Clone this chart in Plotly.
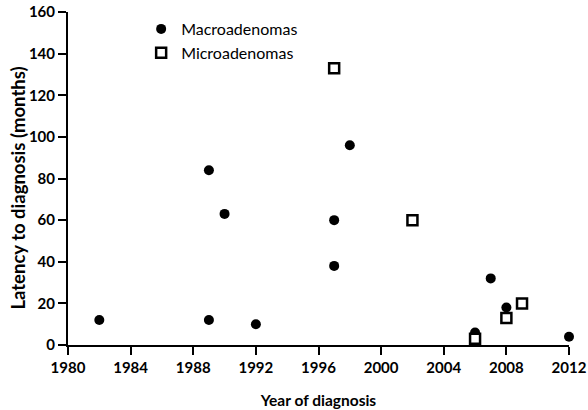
import plotly.graph_objects as go

macro_year = [1982, 1989, 1989, 1990, 1992, 1998, 1997, 1997, 2006, 2007, 2008, 2012]
macro_latency = [12, 84, 12, 63, 10, 96, 60, 38, 6, 32, 18, 4]
micro_year = [1997, 2002, 2006, 2008, 2009]
micro_latency = [133, 60, 3, 13, 20]
x_ticks = [1980, 1984, 1988, 1992, 1996, 2000, 2004, 2008, 2012]
y_ticks = [0, 20, 40, 60, 80, 100, 120, 140, 160]

FONT = "Lato, 'Open Sans', sans-serif"

fig = go.Figure()
fig.add_trace(go.Scatter(
    x=macro_year, y=macro_latency, mode="markers", name="Macroadenomas",
    marker=dict(symbol="circle", size=10, color="black", line=dict(width=0)),
    cliponaxis=False,
))
fig.add_trace(go.Scatter(
    x=micro_year, y=micro_latency, mode="markers", name="Microadenomas",
    marker=dict(symbol="square", size=10, color="white", line=dict(width=2.5, color="black")),
    cliponaxis=False,
))

fig.update_layout(
    width=588, height=410,
    margin=dict(l=68, r=19, t=12, b=65),
    paper_bgcolor="white", plot_bgcolor="white",
    font=dict(family=FONT, color="black"),
    showlegend=True,
    legend=dict(x=0.146, y=1.0, xanchor="left", yanchor="top",
                font=dict(size=16, family=FONT, color="black"),
                bgcolor="rgba(0,0,0,0)", itemsizing="trace", tracegroupgap=0),
    xaxis=dict(
        range=[1980, 2012], tickvals=x_ticks, ticktext=[str(v) for v in x_ticks],
        showgrid=False, zeroline=False, showline=True, linecolor="black", linewidth=2,
        ticks="outside", ticklen=8, tickwidth=2, tickcolor="black", automargin=False,
        ticklabeloverflow="allow",
        tickfont=dict(size=15, family=FONT, color="black", weight="bold"),
        title=dict(text="<b>Year of diagnosis</b>", font=dict(size=15.5, family=FONT), standoff=20),
    ),
    yaxis=dict(
        range=[0, 160], tickvals=y_ticks,
        showgrid=False, zeroline=False, showline=True, linecolor="black", linewidth=2,
        ticks="outside", ticklen=8, tickwidth=2, tickcolor="black", automargin=False,
        ticklabeloverflow="allow",
        tickfont=dict(size=15, family=FONT, color="black", weight="bold"),
    ),
    annotations=[dict(
        text="<b>Latency to diagnosis (months)</b>", textangle=-90,
        xref="paper", yref="paper", x=-0.099, y=0.471,
        xanchor="center", yanchor="middle", showarrow=False,
        font=dict(size=18.5, family=FONT, color="black"),
    )],
)

# Remove the browser's default 8px body margin so the 588x410 figure fills the window.
fig.write_html("out.html", config={"displayModeBar": False},
               post_script="document.body.style.margin='0';")
